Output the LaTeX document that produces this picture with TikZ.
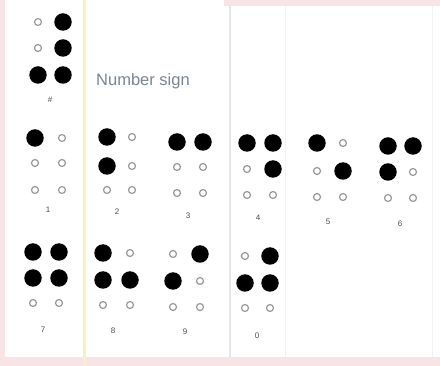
\documentclass[tikz,border=0pt]{standalone}
\usepackage{fontspec}
\setmainfont{Liberation Sans}
\definecolor{pinkbg}{HTML}{F8E4E4}
\definecolor{yline}{HTML}{F7EFC6}
\definecolor{gline}{HTML}{E8E4E8}
\definecolor{ringc}{HTML}{9A9A9E}
\definecolor{labc}{HTML}{4A4D55}
\definecolor{txtc}{HTML}{7C8494}
\tikzset{
  on/.style={circle, fill=black, draw=none, minimum size=17.5pt, inner sep=0pt},
  off/.style={circle, draw=ringc, line width=1.2pt, fill=white, minimum size=7pt, inner sep=0pt},
  bdot/.code={\ifnum#1=1 \pgfkeysalso{on}\else\pgfkeysalso{off}\fi},
  lab/.style={text=labc, font=\fontsize{8}{9}\selectfont, inner sep=0pt}
}
% #1 name, #2 x left, #3 x right, #4 #5 #6 row y, #7 dots 1..6
\newcommand{\bcell}[7]{%
  \foreach \s [count=\i] in {#7} {%
    \pgfmathtruncatemacro\cc{int((\i-1)/3)}%
    \pgfmathtruncatemacro\rr{mod(\i-1,3)}%
    \ifnum\cc=0 \def\xx{#2}\else\def\xx{#3}\fi
    \ifcase\rr \def\yy{#4}\or\def\yy{#5}\or\def\yy{#6}\fi
    \node[bdot=\s] (#1-\i) at (\xx,\yy) {};
  }%
}
\begin{document}
\begin{tikzpicture}[x=1pt,y=-1pt]
\useasboundingbox (0,0) rectangle (440,366);
\fill[white] (0,0) rectangle (440,366);
% page background marks
\fill[pinkbg] (0,0) rectangle (5,366);
\fill[pinkbg] (0,357) rectangle (440,366);
\fill[pinkbg] (224,0) rectangle (440,6);
\fill[yline] (82.5,0) rectangle (85.5,366);
\fill[gline] (229,6) rectangle (231,357);
\fill[gline!50] (284.5,6) rectangle (285.5,357);
\fill[gline!50] (432,6) rectangle (433,357);
% number sign
\bcell{ns}{38}{63}{22}{48}{75}{0,0,1,1,1,1}
\node[lab] (lns) at (50,100) {\#};
\node[text=txtc, font=\fontsize{16.5}{18}\selectfont, anchor=west, inner sep=0pt] (nstxt) at (96,81) {Number sign};
% row 1
\bcell{d1}{35}{62}{138}{163}{190}{1,0,0,0,0,0}
\node[lab] (l1) at (48,210) {1};
\bcell{d2}{107}{132}{137}{166}{190}{1,1,0,0,0,0}
\node[lab] (l2) at (117,212) {2};
\bcell{d3}{177}{203}{142}{167}{193}{1,0,0,1,0,0}
\node[lab] (l3) at (188,216) {3};
\bcell{d4}{247}{273}{143}{169}{195}{1,0,0,1,1,0}
\node[lab] (l4) at (258,218) {4};
\bcell{d5}{317}{343}{143}{171}{197}{1,0,0,0,1,0}
\node[lab] (l5) at (328,222) {5};
\bcell{d6}{388}{413}{146}{172}{198}{1,1,0,1,0,0}
\node[lab] (l6) at (400,224) {6};
% row 2
\bcell{d7}{33}{59}{252}{278}{303}{1,1,0,1,1,0}
\node[lab] (l7) at (43,330) {7};
\bcell{d8}{103}{130}{253}{280}{305}{1,1,0,0,1,0}
\node[lab] (l8) at (113,331) {8};
\bcell{d9}{173}{200}{254}{281}{307}{0,1,0,1,0,0}
\node[lab] (l9) at (185,332) {9};
\bcell{d0}{245}{270}{256}{283}{308}{0,1,0,1,1,0}
\node[lab] (l0) at (257,336) {0};
\end{tikzpicture}
\end{document}
